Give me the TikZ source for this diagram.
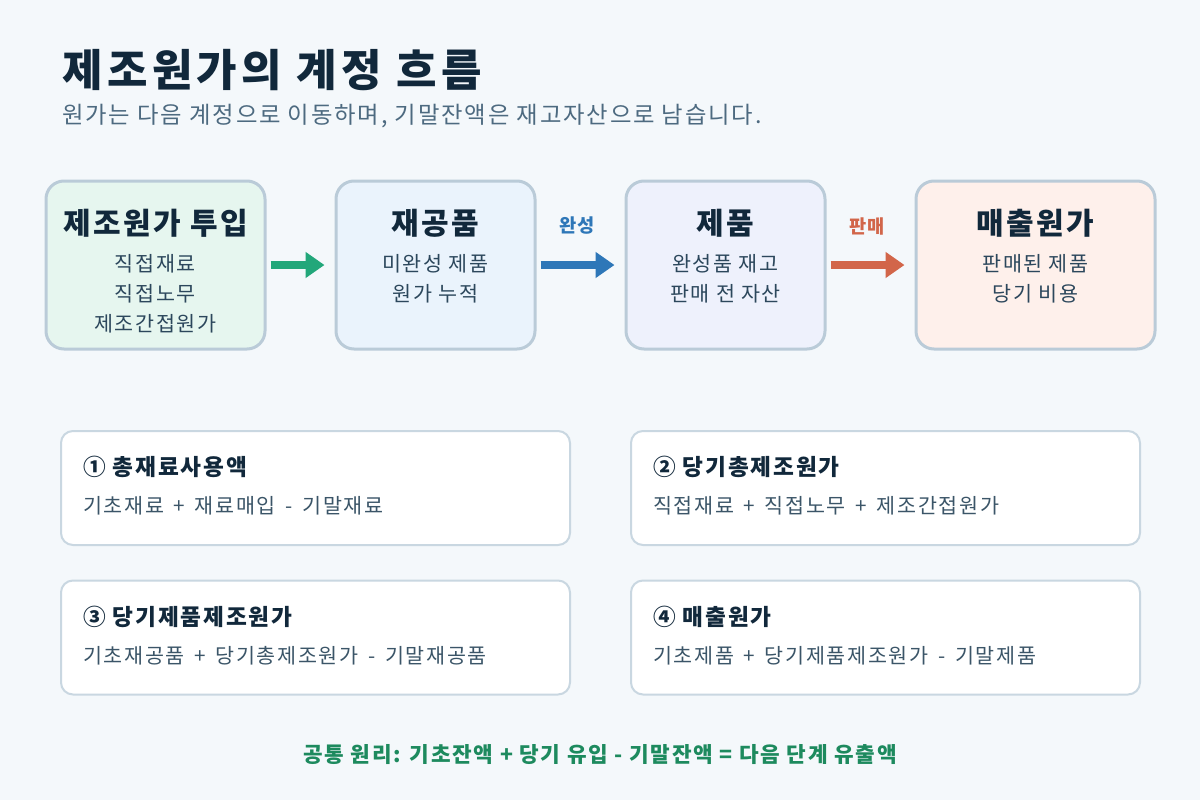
\documentclass[tikz,border=0pt]{standalone}
\usepackage{fontspec}
\usetikzlibrary{arrows.meta}
\newfontfamily\kr[LetterSpace=8]{Noto Sans CJK KR}
\newfontfamily\krhead[LetterSpace=10]{Noto Sans CJK KR}
\newcommand\opsym[1]{\hspace{2.5pt}#1\hspace{2.5pt}}
\definecolor{bgpage}{HTML}{F4F8FB}
\definecolor{inkdark}{HTML}{11283B}
\definecolor{inksub}{HTML}{4D6A80}
\definecolor{inkbody}{HTML}{2C475C}
\definecolor{inkrule}{HTML}{3B5568}
\definecolor{boxedge}{HTML}{BACBD8}
\definecolor{ruleedge}{HTML}{C9D7E1}
\definecolor{fillin}{HTML}{E6F6EF}
\definecolor{fillwip}{HTML}{EAF3FC}
\definecolor{fillfg}{HTML}{EEF1FC}
\definecolor{fillcogs}{HTML}{FEF0EB}
\definecolor{flowgreen}{HTML}{22A77A}
\definecolor{flowblue}{HTML}{2E77B8}
\definecolor{floworange}{HTML}{D2664A}
\definecolor{notegreen}{HTML}{1D8A5E}
\begin{document}
\begin{tikzpicture}[x=0.75pt,y=-0.75pt,
  stage/.style={draw=boxedge,line width=2.25pt,rounded corners=13.5pt,minimum height=126pt,inner sep=0pt},
  rulebox/.style={draw=ruleedge,fill=white,line width=1.5pt,rounded corners=9pt,minimum width=381.75pt,minimum height=85.5pt,inner sep=0pt},
  stagetitle/.style={font=\kr\bfseries\fontsize{22.5pt}{27pt}\selectfont,text=inkdark,inner sep=0pt},
  stagetext/.style={font=\kr\fontsize{15.5pt}{19pt}\selectfont,text=inkbody,inner sep=0pt},
  ruletitle/.style={anchor=west,font=\kr\bfseries\fontsize{17pt}{20pt}\selectfont,text=inkdark,inner sep=0pt},
  ruletext/.style={anchor=west,font=\kr\fontsize{15.5pt}{19pt}\selectfont,text=inkrule,inner sep=0pt},
  flow/.style={line width=6pt,-{Triangle[length=14.25pt,width=18.75pt]},shorten <=3pt,shorten >=7.5pt},
  flowlabel/.style={font=\kr\bfseries\fontsize{14pt}{17pt}\selectfont,inner sep=0pt}]
  \fill[bgpage] (0,0) rectangle (1200,800);
  % heading
  \node[anchor=west,inner sep=0pt,text=inkdark,font=\krhead\bfseries\fontsize{33pt}{40pt}\selectfont] (title) at (62,70) {제조원가의 계정 흐름};
  \node[anchor=west,inner sep=0pt,text=inksub,font=\kr\fontsize{17.5pt}{21pt}\selectfont] (subtitle) at (62,116) {원가는 다음 계정으로 이동하며, 기말잔액은 재고자산으로 남습니다.};
  % account stages
  \node[stage,fill=fillin,minimum width=164.25pt] (inp) at (155.5,265) {};
  \node[stage,fill=fillwip,minimum width=149.25pt] (wip) at (435.5,265) {};
  \node[stage,fill=fillfg,minimum width=149.25pt] (fg) at (725.5,265) {};
  \node[stage,fill=fillcogs,minimum width=179.25pt] (cogs) at (1035.5,265) {};
  \node[stagetitle] (inpt) at (155.5,223) {제조원가 투입};
  \node[stagetext] (inp1) at (155.5,264) {직접재료};
  \node[stagetext] (inp2) at (155.5,294) {직접노무};
  \node[stagetext] (inp3) at (155.5,324) {제조간접원가};
  \node[stagetitle] (wipt) at (435.5,223) {재공품};
  \node[stagetext] (wip1) at (435.5,264) {미완성 제품};
  \node[stagetext] (wip2) at (435.5,294) {원가 누적};
  \node[stagetitle] (fgt) at (725.5,223) {제품};
  \node[stagetext] (fg1) at (725.5,264) {완성품 재고};
  \node[stagetext] (fg2) at (725.5,294) {판매 전 자산};
  \node[stagetitle] (cogst) at (1035.5,223) {매출원가};
  \node[stagetext] (cogs1) at (1035.5,264) {판매된 제품};
  \node[stagetext] (cogs2) at (1035.5,294) {당기 비용};
  % flows
  \draw[flow,flowgreen] (inp.east) -- (wip.west);
  \draw[flow,flowblue] (wip.east) -- (fg.west);
  \draw[flow,floworange] (fg.east) -- (cogs.west);
  \node[flowlabel,text=flowblue] (done) at (577,226) {완성};
  \node[flowlabel,text=floworange] (sold) at (867,226) {판매};
  % formulas
  \node[rulebox] (ruleA) at (315.5,488) {};
  \node[rulebox] (ruleB) at (885.5,488) {};
  \node[rulebox] (ruleC) at (315.5,637.5) {};
  \node[rulebox] (ruleD) at (885.5,637.5) {};
  \node[ruletitle] (ruleAt) at (83,467) {① 총재료사용액};
  \node[ruletext] (ruleAf) at (83,506) {기초재료 \opsym{+} 재료매입 \opsym{-} 기말재료};
  \node[ruletitle] (ruleBt) at (653,467) {② 당기총제조원가};
  \node[ruletext] (ruleBf) at (653,506) {직접재료 \opsym{+} 직접노무 \opsym{+} 제조간접원가};
  \node[ruletitle] (ruleCt) at (83,617) {③ 당기제품제조원가};
  \node[ruletext] (ruleCf) at (83,656) {기초재공품 \opsym{+} 당기총제조원가 \opsym{-} 기말재공품};
  \node[ruletitle] (ruleDt) at (653,617) {④ 매출원가};
  \node[ruletext] (ruleDf) at (653,656) {기초제품 \opsym{+} 당기제품제조원가 \opsym{-} 기말제품};
  % footer
  \node[inner sep=0pt,text=notegreen,font=\kr\bfseries\fontsize{16pt}{19pt}\selectfont] (note) at (600,755) {공통 원리: 기초잔액 + 당기 유입 - 기말잔액 = 다음 단계 유출액};
\end{tikzpicture}
\end{document}
